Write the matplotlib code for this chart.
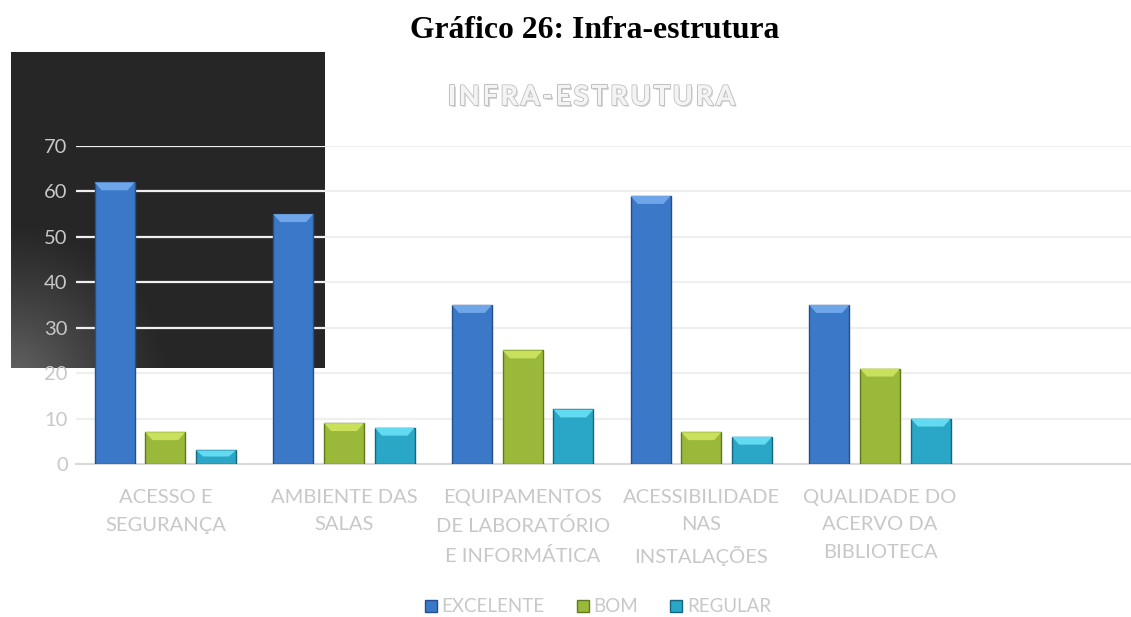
import numpy as np
import matplotlib
matplotlib.use("Agg")
import matplotlib.pyplot as plt
import matplotlib.patheffects as pe
from matplotlib.patches import Polygon, Patch

# data
categories = [
    "ACESSO E\nSEGURANÇA",
    "AMBIENTE DAS\nSALAS",
    "EQUIPAMENTOS\nDE LABORATÓRIO\nE INFORMÁTICA",
    "ACESSIBILIDADE\nNAS\nINSTALAÇÕES",
    "QUALIDADE DO\nACERVO DA\nBIBLIOTECA",
    "",
]
excelente = [62, 55, 35, 59, 35]
bom = [7, 9, 25, 7, 21]
regular = [3, 8, 12, 6, 10]
series_names = ["EXCELENTE", "BOM", "REGULAR"]
yticks = [0, 10, 20, 30, 40, 50, 60, 70]
chart_title = "INFRA-ESTRUTURA"

# (face, bevel top, edge)
colors = [
    ("#3b78c8", "#6fa6ea", "#234f8a"),
    ("#9ab93a", "#c8e05c", "#5f7a1c"),
    ("#2aa6c6", "#62daf2", "#16667e"),
]

plt.rcParams["font.family"] = ["Lato", "DejaVu Sans"]
W, H = 1131, 617
fig = plt.figure(figsize=(W / 100, H / 100), dpi=100)
fig.patch.set_facecolor("white")

# dark block behind the upper-left of the chart
bg = fig.add_axes([11 / W, 1 - 368 / H, 314 / W, 316 / H], zorder=0)
yy, xx = np.mgrid[0:316, 0:314]
r = np.hypot(xx - 0, yy - 330) / 160.0
t = np.clip(1 - r, 0, 1) ** 1.2
base = np.array([0x26, 0x26, 0x26]) / 255
light = np.array([0x66, 0x66, 0x66]) / 255
img = base + (light - base) * t[..., None]
bg.imshow(img, aspect="auto", interpolation="bilinear")
bg.axis("off")

# axes run past the right edge of the picture, like the reference crop
ax = fig.add_axes([76 / W, 1 - 464 / H, (1148 - 76) / W, (464 - 146) / H], zorder=1)
ax.set_facecolor("none")

x = np.arange(len(categories))
offsets = [-0.284, 0.0, 0.284]
bw = 0.224
bevel_y = 1.75
bevel_x = 0.04
for vals, off, (fc, tc, ec) in zip([excelente, bom, regular], offsets, colors):
    xs = x[: len(vals)] + off
    ax.bar(xs, vals, width=bw, color=fc, edgecolor=ec, linewidth=1.0, zorder=3)
    for xi, h in zip(xs, vals):
        x0, x1 = xi - bw / 2, xi + bw / 2
        d = min(bevel_y, h * 0.45)
        top = Polygon([(x0, h), (x1, h), (x1 - bevel_x, h - d), (x0 + bevel_x, h - d)],
                      closed=True, facecolor=tc, edgecolor="none", zorder=4)
        ax.add_patch(top)

ax.set_xlim(-0.5, len(categories) - 0.5)
ax.set_ylim(0, 70)
ax.set_yticks(yticks)
ax.set_xticks(x)
ax.set_xticklabels(categories, linespacing=1.75)
ax.yaxis.grid(True, color="#efefef", linewidth=1.6, zorder=0)
ax.set_axisbelow(True)
for s in ["top", "right", "left"]:
    ax.spines[s].set_visible(False)
ax.spines["bottom"].set_color("#d9d9d9")
ax.spines["bottom"].set_linewidth(1.5)
ax.tick_params(axis="both", length=0, labelsize=14.5, colors="#c8c8c8")
ax.tick_params(axis="y", pad=6)
ax.tick_params(axis="x", pad=18)

fig.text(595 / W, 1 - 31 / H, "Gráfico 26: Infra-estrutura", ha="center", va="center",
         fontsize=22.8, fontweight="bold", family="Liberation Serif", color="black")

# letter-spaced chart title: place chars one by one
renderer = fig.canvas.get_renderer()
effects = [pe.withSimplePatchShadow(offset=(1.2, -1.2), shadow_rgbFace="#bcbcbc", alpha=0.6),
           pe.withStroke(linewidth=1.5, foreground="#c2c2c2"), pe.Normal()]
chars = []
widths = []
for ch in chart_title:
    tx = fig.text(0, 1 - 97 / H, ch, ha="left", va="center", fontsize=19.5,
                  fontweight="bold", color="#f4f4f4", path_effects=effects)
    chars.append(tx)
    widths.append(tx.get_window_extent(renderer).width)
left_px, right_px = 448, 735
track = ((right_px - left_px) - sum(widths)) / (len(chart_title) - 1)
pos = left_px
for tx, w in zip(chars, widths):
    tx.set_x(pos / W)
    pos += w + track

handles = [Patch(facecolor=fc, edgecolor=ec) for fc, tc, ec in colors]
leg = fig.legend(handles, series_names, loc="center", bbox_to_anchor=(598 / W, 1 - 607 / H),
                 ncol=3, frameon=False, fontsize=13.5, handlelength=0.65, handleheight=0.65,
                 handletextpad=0.25, columnspacing=1.7, labelcolor="#c8c8c8")

fig.savefig("out.png", dpi=100)
